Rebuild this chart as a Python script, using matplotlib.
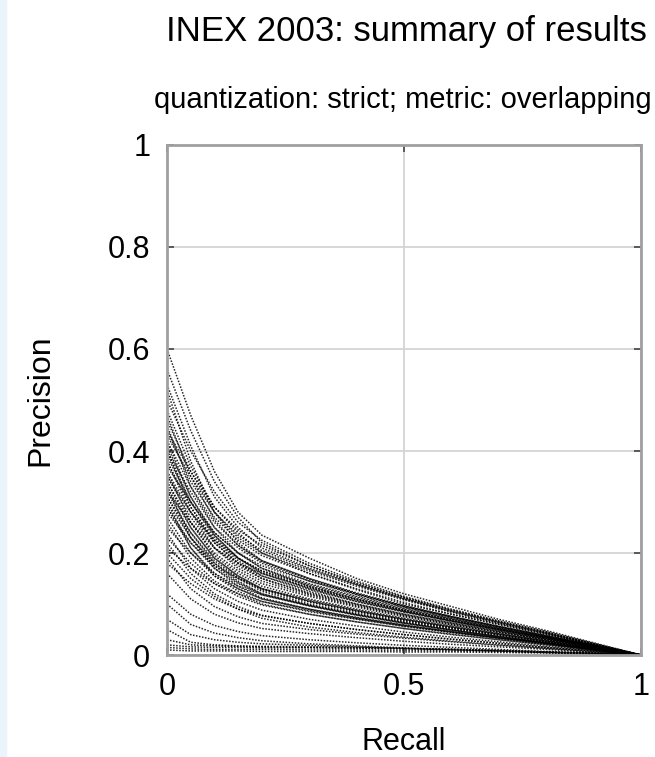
import matplotlib
matplotlib.use('Agg')
import matplotlib.pyplot as plt
from matplotlib.patches import Rectangle

plt.rcParams['font.family'] = ['Liberation Sans', 'DejaVu Sans']

# recall points shared by all runs
recall = [0, 0.05, 0.1, 0.15, 0.2, 0.3, 0.4, 0.5, 0.6, 0.7, 0.8, 0.9, 1.0]

# precision of each submitted run
precision_runs = [
    [0.60, 0.47, 0.36, 0.28, 0.235, 0.19, 0.15, 0.12, 0.095, 0.07, 0.048, 0.024, 0],
    [0.56, 0.44, 0.34, 0.27, 0.22, 0.175, 0.14, 0.112, 0.088, 0.066, 0.045, 0.022, 0],
    [0.53, 0.41, 0.31, 0.25, 0.21, 0.17, 0.138, 0.11, 0.085, 0.063, 0.043, 0.021, 0],
    [0.50, 0.40, 0.32, 0.26, 0.225, 0.18, 0.145, 0.115, 0.09, 0.067, 0.046, 0.023, 0],
    [0.48, 0.37, 0.29, 0.24, 0.20, 0.16, 0.128, 0.10, 0.08, 0.06, 0.041, 0.02, 0],
    [0.52, 0.38, 0.28, 0.22, 0.185, 0.15, 0.12, 0.095, 0.075, 0.056, 0.038, 0.019, 0],
    [0.46, 0.36, 0.28, 0.23, 0.20, 0.165, 0.135, 0.108, 0.084, 0.062, 0.042, 0.021, 0],
    [0.44, 0.34, 0.27, 0.225, 0.195, 0.16, 0.13, 0.103, 0.08, 0.06, 0.04, 0.02, 0],
    [0.42, 0.33, 0.26, 0.215, 0.185, 0.15, 0.122, 0.097, 0.076, 0.056, 0.038, 0.019, 0],
    [0.41, 0.31, 0.24, 0.20, 0.17, 0.14, 0.115, 0.092, 0.072, 0.053, 0.036, 0.018, 0],
    [0.40, 0.32, 0.25, 0.21, 0.18, 0.145, 0.118, 0.094, 0.074, 0.055, 0.037, 0.018, 0],
    [0.39, 0.30, 0.235, 0.19, 0.16, 0.13, 0.105, 0.085, 0.067, 0.05, 0.034, 0.017, 0],
    [0.38, 0.29, 0.225, 0.185, 0.155, 0.125, 0.10, 0.08, 0.063, 0.047, 0.032, 0.016, 0],
    [0.45, 0.33, 0.25, 0.20, 0.17, 0.135, 0.11, 0.088, 0.07, 0.052, 0.035, 0.018, 0],
    [0.43, 0.35, 0.28, 0.235, 0.205, 0.168, 0.138, 0.11, 0.086, 0.064, 0.043, 0.021, 0],
    [0.40, 0.29, 0.22, 0.18, 0.15, 0.12, 0.098, 0.078, 0.061, 0.045, 0.03, 0.015, 0],
    [0.37, 0.30, 0.24, 0.20, 0.175, 0.145, 0.12, 0.096, 0.075, 0.055, 0.037, 0.018, 0],
    [0.36, 0.28, 0.22, 0.18, 0.155, 0.128, 0.105, 0.084, 0.066, 0.049, 0.033, 0.016, 0],
    [0.35, 0.27, 0.21, 0.175, 0.15, 0.122, 0.10, 0.08, 0.063, 0.047, 0.031, 0.016, 0],
    [0.34, 0.26, 0.20, 0.165, 0.14, 0.115, 0.094, 0.075, 0.059, 0.044, 0.03, 0.015, 0],
    [0.33, 0.25, 0.19, 0.155, 0.13, 0.105, 0.086, 0.069, 0.054, 0.04, 0.027, 0.013, 0],
    [0.32, 0.26, 0.21, 0.18, 0.16, 0.132, 0.108, 0.086, 0.067, 0.05, 0.033, 0.016, 0],
    [0.31, 0.24, 0.18, 0.15, 0.125, 0.10, 0.082, 0.066, 0.052, 0.039, 0.026, 0.013, 0],
    [0.30, 0.23, 0.18, 0.145, 0.12, 0.098, 0.08, 0.064, 0.05, 0.037, 0.025, 0.012, 0],
    [0.29, 0.22, 0.17, 0.14, 0.118, 0.096, 0.078, 0.062, 0.049, 0.036, 0.024, 0.012, 0],
    [0.36, 0.26, 0.195, 0.16, 0.135, 0.11, 0.09, 0.072, 0.057, 0.042, 0.028, 0.014, 0],
    [0.28, 0.22, 0.175, 0.15, 0.13, 0.108, 0.088, 0.07, 0.055, 0.041, 0.027, 0.013, 0],
    [0.33, 0.23, 0.17, 0.135, 0.112, 0.09, 0.073, 0.058, 0.046, 0.034, 0.023, 0.011, 0],
    [0.30, 0.21, 0.155, 0.125, 0.105, 0.085, 0.07, 0.056, 0.044, 0.033, 0.022, 0.011, 0],
    [0.27, 0.20, 0.155, 0.13, 0.11, 0.09, 0.074, 0.059, 0.046, 0.034, 0.023, 0.011, 0],
    [0.26, 0.19, 0.145, 0.12, 0.10, 0.08, 0.065, 0.052, 0.041, 0.03, 0.02, 0.01, 0],
    [0.24, 0.17, 0.13, 0.105, 0.088, 0.07, 0.057, 0.045, 0.035, 0.026, 0.017, 0.009, 0],
    [0.22, 0.16, 0.12, 0.095, 0.078, 0.062, 0.05, 0.04, 0.031, 0.023, 0.015, 0.008, 0],
    [0.21, 0.17, 0.14, 0.12, 0.105, 0.087, 0.071, 0.057, 0.045, 0.033, 0.022, 0.011, 0],
    [0.20, 0.15, 0.115, 0.09, 0.072, 0.055, 0.044, 0.035, 0.027, 0.02, 0.013, 0.007, 0],
    [0.19, 0.13, 0.095, 0.075, 0.062, 0.05, 0.041, 0.033, 0.026, 0.019, 0.013, 0.006, 0],
    [0.18, 0.14, 0.11, 0.09, 0.077, 0.062, 0.05, 0.04, 0.031, 0.023, 0.015, 0.008, 0],
    [0.16, 0.11, 0.08, 0.063, 0.052, 0.042, 0.034, 0.027, 0.021, 0.016, 0.011, 0.005, 0],
    [0.25, 0.20, 0.16, 0.135, 0.118, 0.097, 0.079, 0.063, 0.049, 0.036, 0.024, 0.012, 0],
    [0.23, 0.18, 0.14, 0.115, 0.098, 0.08, 0.065, 0.052, 0.04, 0.03, 0.02, 0.01, 0],
    [0.12, 0.08, 0.058, 0.046, 0.038, 0.03, 0.024, 0.019, 0.015, 0.011, 0.007, 0.004, 0],
    [0.10, 0.06, 0.043, 0.034, 0.028, 0.022, 0.018, 0.014, 0.011, 0.008, 0.005, 0.003, 0],
    [0.07, 0.04, 0.03, 0.025, 0.022, 0.019, 0.016, 0.013, 0.01, 0.008, 0.005, 0.003, 0],
    [0.05, 0.025, 0.02, 0.018, 0.017, 0.016, 0.015, 0.013, 0.011, 0.008, 0.006, 0.003, 0],
    [0.03, 0.02, 0.018, 0.017, 0.016, 0.015, 0.014, 0.013, 0.011, 0.009, 0.006, 0.003, 0],
    [0.02, 0.016, 0.015, 0.015, 0.014, 0.014, 0.013, 0.012, 0.011, 0.009, 0.006, 0.003, 0],
    [0.015, 0.012, 0.011, 0.011, 0.011, 0.01, 0.01, 0.009, 0.008, 0.007, 0.005, 0.003, 0],
    [0.01, 0.008, 0.008, 0.008, 0.007, 0.007, 0.007, 0.006, 0.006, 0.005, 0.004, 0.002, 0],
    [0.47, 0.35, 0.265, 0.215, 0.183, 0.148, 0.12, 0.096, 0.075, 0.056, 0.037, 0.019, 0],
    [0.42, 0.31, 0.235, 0.19, 0.162, 0.132, 0.108, 0.086, 0.067, 0.05, 0.033, 0.017, 0],
    [0.38, 0.28, 0.21, 0.17, 0.145, 0.118, 0.096, 0.077, 0.06, 0.045, 0.03, 0.015, 0],
    [0.35, 0.28, 0.225, 0.19, 0.165, 0.135, 0.11, 0.088, 0.069, 0.051, 0.034, 0.017, 0],
    [0.32, 0.24, 0.185, 0.152, 0.128, 0.104, 0.085, 0.068, 0.053, 0.039, 0.026, 0.013, 0],
    [0.29, 0.21, 0.16, 0.13, 0.11, 0.089, 0.072, 0.058, 0.045, 0.033, 0.022, 0.011, 0],
    [0.44, 0.36, 0.29, 0.245, 0.215, 0.175, 0.142, 0.113, 0.088, 0.065, 0.044, 0.022, 0],
    [0.40, 0.30, 0.23, 0.19, 0.165, 0.138, 0.113, 0.09, 0.071, 0.052, 0.035, 0.018, 0],
    [0.34, 0.25, 0.19, 0.155, 0.13, 0.106, 0.087, 0.07, 0.055, 0.041, 0.027, 0.014, 0],
    [0.31, 0.23, 0.175, 0.142, 0.12, 0.097, 0.079, 0.063, 0.049, 0.036, 0.024, 0.012, 0],
]

xticks = [0, 0.5, 1]
xtick_labels = ['0', '0.5', '1']
yticks = [0, 0.2, 0.4, 0.6, 0.8, 1]
ytick_labels = ['0', '0.2', '0.4', '0.6', '0.8', '1']

fig = plt.figure(figsize=(6.55, 7.57), dpi=100)
# light blue strip on the left edge
fig.patches.append(Rectangle((0, 0), 0.009, 1, transform=fig.transFigure,
                             color='#eaf4fc', zorder=0))

ax = fig.add_axes([0.255, 0.1347, 0.7237, 0.6738])
for p in precision_runs:
    ax.plot(recall, p, color='black', lw=1.1, linestyle=(0, (1, 1)), alpha=0.85)

ax.set_xlim(0, 1)
ax.set_ylim(0, 1)
ax.set_xticks(xticks)
ax.set_xticklabels(xtick_labels)
ax.set_yticks(yticks)
ax.set_yticklabels(ytick_labels)
ax.grid(True, color='#d4d4d4', lw=1.3)
ax.set_axisbelow(True)
ax.tick_params(direction='in', length=5, width=1.2, color='#444444',
               top=True, right=True, labelsize=22, pad=12)
for s in ax.spines.values():
    s.set_color('#a0a0a0')
    s.set_linewidth(2)

ax.set_xlabel('Recall', fontsize=22, labelpad=18)
ax.set_ylabel('Precision', fontsize=23, labelpad=38)

fig.text(0.62, 0.958, 'INEX 2003: summary of results', fontsize=25,
         ha='center', va='center')
fig.text(0.615, 0.868, 'quantization: strict; metric: overlapping',
         fontsize=21, ha='center', va='center')

plt.savefig('out.png')
